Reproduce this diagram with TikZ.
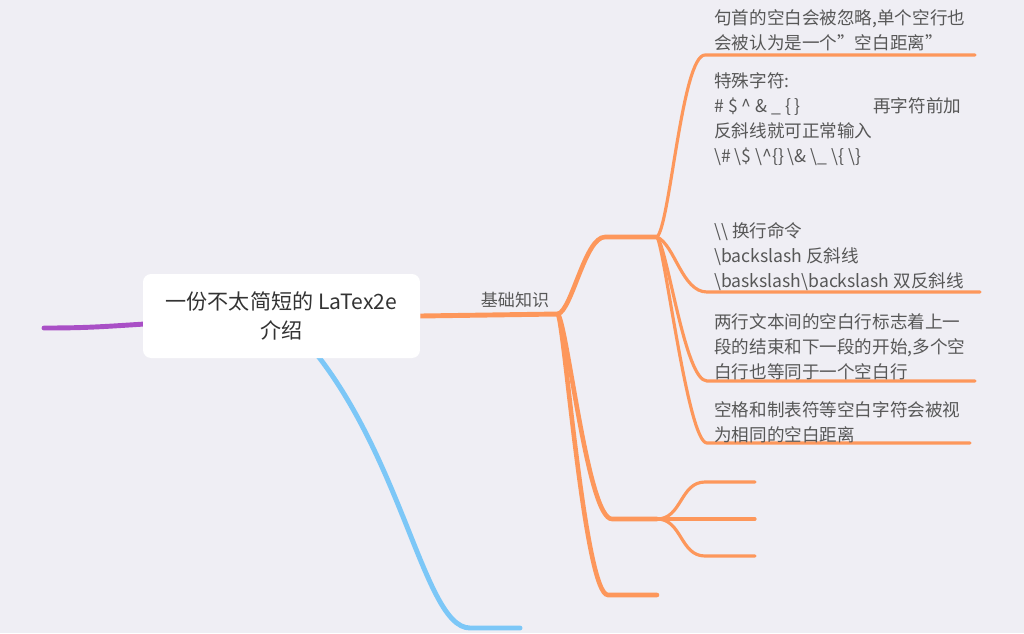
\documentclass[tikz,border=0pt]{standalone}
\usepackage{fontspec}
\setmainfont{Noto Sans CJK SC}
\definecolor{bgc}{HTML}{EFEEF4}
\definecolor{org}{HTML}{FD975B}
\definecolor{pur}{HTML}{A94FC6}
\definecolor{sky}{HTML}{7CC7F7}
\definecolor{ink}{HTML}{575757}
\tikzset{
	lnk/.style={draw=org, line width=2.6pt, line cap=round},
	sublnk/.style={draw=org, line width=1.8pt, line cap=round},
	txt/.style={
		anchor=north west,
		inner sep=0pt,
		align=left,
		text=ink,
		font=\fontsize{10pt}{14.2pt}\selectfont
	}
}

\begin{document}
\begin{tikzpicture}[x=0.02cm, y=-0.02cm]
\fill[bgc] (0,0) rectangle (1024,633);
\useasboundingbox (0,0) rectangle (1024,633);

\coordinate (RC) at (281.5,316);
\coordinate (P) at (44,328);
\coordinate (B) at (520,628);
\coordinate (K) at (558,314);
\coordinate (S1) at (657,237);
\coordinate (S2) at (657,519);
\coordinate (S3) at (657,595);
\coordinate (U1) at (975,55);
\coordinate (U2) at (980,292);
\coordinate (U3) at (975,381);
\coordinate (U4) at (970,443);

\draw[pur, line width=2.8pt, line cap=round] (RC) .. controls (110,325) and (110,328) .. (P);
\draw[sky, line width=2.8pt, line cap=round] (RC) .. controls (400,425) and (420,628) .. (470,628) -- (B);

\node[fill=white, rounded corners=0.16cm, minimum width=5.54cm, minimum height=1.68cm,
	align=center, text=black!80, font=\fontsize{12pt}{17pt}\selectfont] (root) at (RC)
	{一份不太简短的 LaTex2e\\介绍};

\draw[org, line width=2.8pt] (root.east) -- (K);
\node[text=ink, font=\fontsize{9.7pt}{12pt}\selectfont] (basics) at (515,300) {基础知识};

\draw[lnk] (K) .. controls (572,310) and (585,237) .. (605,237) -- (S1);
\draw[lnk] (K) .. controls (568,330) and (588,519) .. (612,519) -- (S2);
\draw[lnk] (K) .. controls (565,330) and (585,595) .. (608,595) -- (S3);

\draw[sublnk] (S1) .. controls (670,225) and (682,55) .. (705,55) -- (U1);
\draw[sublnk] (S1) .. controls (675,245) and (682,292) .. (707,292) -- (U2);
\draw[sublnk] (S1) .. controls (668,250) and (685,381) .. (707,381) -- (U3);
\draw[sublnk] (S1) .. controls (665,250) and (688,443) .. (707,443) -- (U4);

\foreach \i/\y in {1/482, 2/519, 3/556} {
	\coordinate (E\i) at (755,\y);
	\draw[sublnk] (S2) .. controls +(25,0) and +(-25,0) .. (705,\y) -- (E\i);
}

\node[txt] (t1) at (714,9) {句首的空白会被忽略,单个空行也\\会被认为是一个”空白距离”};
\node[txt] (t2) at (714,72) {特殊字符:\\\# \$ \textasciicircum{} \& \_ \{ \}\hspace*{1.45cm}再字符前加\\反斜线就可正常输入\\\textbackslash\# \textbackslash\$ \textbackslash\textasciicircum\{\} \textbackslash\& \textbackslash\_ \textbackslash\{ \textbackslash\}};
\node[txt] (t3) at (714,222) {\textbackslash\textbackslash{} 换行命令\\\textbackslash backslash 反斜线\\\textbackslash baskslash\textbackslash backslash 双反斜线};
\node[txt] (t4) at (714,313) {两行文本间的空白行标志着上一\\段的结束和下一段的开始,多个空\\白行也等同于一个空白行};
\node[txt] (t5) at (714,401) {空格和制表符等空白字符会被视\\为相同的空白距离};
\end{tikzpicture}
\end{document}
